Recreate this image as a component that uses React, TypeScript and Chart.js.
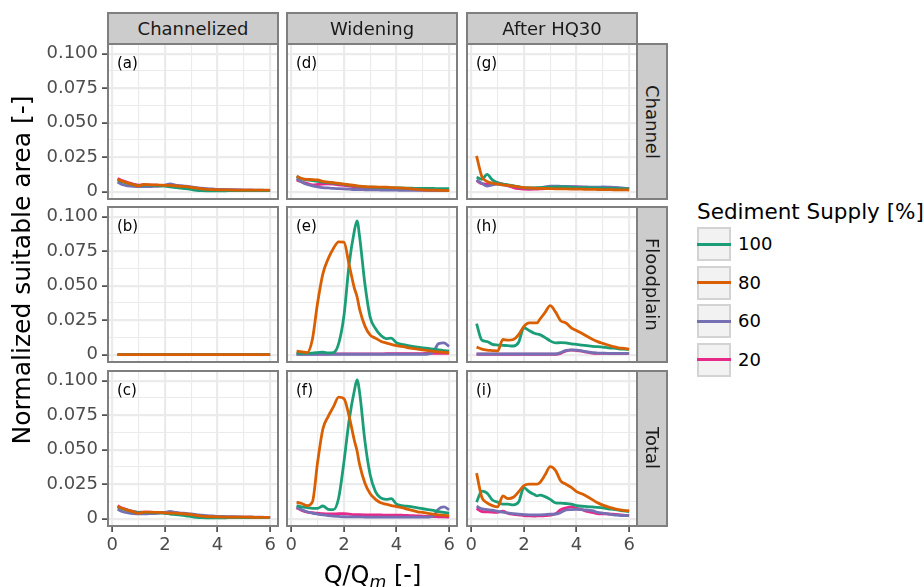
import React, { useEffect, useRef } from 'react';
import { Chart, registerables } from 'chart.js';
Chart.register(...registerables);

// ---------------- data ----------------
const X = [0.2, 0.4, 0.6, 0.8, 1.0, 1.2, 1.4, 1.6, 1.8, 2.0, 2.2, 2.4, 2.5, 2.6, 2.8, 3.0, 3.2, 3.4, 3.6, 3.8, 4.0, 4.2, 4.4, 4.6, 4.8, 5.0, 5.2, 5.4, 5.6, 5.8, 6.0];

const SUPPLY = ['100', '80', '60', '20'];
const COLUMNS = ['Channelized', 'Widening', 'After HQ30'];
const ROWS = ['Channel', 'Floodplain', 'Total'];
const LETTERS = [['(a)', '(b)', '(c)'], ['(d)', '(e)', '(f)'], ['(g)', '(h)', '(i)']];

const XTICK_VALUES = [0, 2, 4, 6];
const XTICK_LABELS = ['0', '2', '4', '6'];
const XMINOR_VALUES = [1, 3, 5];
const YTICK_VALUES = [0, 0.025, 0.05, 0.075, 0.1];
const YTICK_LABELS = ['0', '0.025', '0.050', '0.075', '0.100'];
const YMINOR_VALUES = [0.0125, 0.0375, 0.0625, 0.0875];

// (a) Channelized / Channel
const A100 = [0.0085, 0.007, 0.006, 0.005, 0.0045, 0.0048, 0.0047, 0.0045, 0.0043, 0.004, 0.0035, 0.003, 0.0028, 0.0026, 0.0022, 0.0016, 0.001, 0.0007, 0.0006, 0.0006, 0.0006, 0.0006, 0.0007, 0.0007, 0.0007, 0.0008, 0.0008, 0.0008, 0.0008, 0.0008, 0.0008];
const A80 = [0.0088, 0.0075, 0.0062, 0.0052, 0.0042, 0.0052, 0.005, 0.0049, 0.0048, 0.0046, 0.0045, 0.0042, 0.004, 0.0039, 0.0037, 0.0032, 0.0026, 0.002, 0.0016, 0.0015, 0.0014, 0.0013, 0.0013, 0.0012, 0.0012, 0.0012, 0.0011, 0.0011, 0.0011, 0.0011, 0.0011];
const A60 = [0.007, 0.005, 0.0042, 0.0038, 0.0036, 0.0036, 0.0037, 0.0038, 0.0041, 0.0048, 0.0057, 0.0048, 0.0045, 0.0043, 0.004, 0.0035, 0.003, 0.0025, 0.0022, 0.002, 0.0017, 0.0016, 0.0015, 0.0014, 0.0013, 0.0012, 0.0012, 0.0011, 0.0011, 0.001, 0.001];
const A20 = [0.0095, 0.0078, 0.0065, 0.0055, 0.0048, 0.005, 0.0049, 0.0047, 0.0046, 0.0044, 0.0042, 0.004, 0.0038, 0.0037, 0.0034, 0.003, 0.0025, 0.002, 0.0016, 0.0014, 0.0013, 0.0012, 0.0012, 0.0012, 0.0011, 0.0011, 0.0011, 0.001, 0.001, 0.001, 0.001];

// (b) Channelized / Floodplain
const B100 = [0, 0, 0, 0, 0, 0, 0, 0, 0, 0, 0, 0, 0, 0, 0, 0, 0, 0, 0, 0, 0, 0, 0, 0, 0, 0, 0, 0, 0, 0, 0];
const B80 = [0, 0, 0, 0, 0, 0, 0, 0, 0, 0, 0, 0, 0, 0, 0, 0, 0, 0, 0, 0, 0, 0, 0, 0, 0, 0, 0, 0, 0, 0, 0];
const B60 = [0, 0, 0, 0, 0, 0, 0, 0, 0, 0, 0, 0, 0, 0, 0, 0, 0, 0, 0, 0, 0, 0, 0, 0, 0, 0, 0, 0, 0, 0, 0];
const B20 = [0, 0, 0, 0, 0, 0, 0, 0, 0, 0, 0, 0, 0, 0, 0, 0, 0, 0, 0, 0, 0, 0, 0, 0, 0, 0, 0, 0, 0, 0, 0];

// (c) Channelized / Total
const C100 = [0.0085, 0.007, 0.006, 0.005, 0.0044, 0.0046, 0.0045, 0.0044, 0.0042, 0.0039, 0.0034, 0.003, 0.0028, 0.0026, 0.0021, 0.0015, 0.001, 0.0007, 0.0006, 0.0006, 0.0006, 0.0006, 0.0007, 0.0007, 0.0007, 0.0008, 0.0008, 0.0008, 0.0008, 0.0008, 0.0008];
const C80 = [0.0087, 0.0074, 0.006, 0.005, 0.0038, 0.0048, 0.0047, 0.0046, 0.0045, 0.0042, 0.0041, 0.004, 0.0038, 0.0037, 0.0034, 0.003, 0.0024, 0.0018, 0.0015, 0.0014, 0.0013, 0.0012, 0.0012, 0.0012, 0.0011, 0.0011, 0.0011, 0.001, 0.001, 0.001, 0.001];
const C60 = [0.0068, 0.005, 0.0042, 0.0037, 0.0035, 0.0035, 0.0036, 0.0037, 0.004, 0.0046, 0.0052, 0.0046, 0.0043, 0.0041, 0.0038, 0.0034, 0.003, 0.0025, 0.0022, 0.002, 0.0017, 0.0016, 0.0015, 0.0014, 0.0013, 0.0012, 0.0012, 0.0011, 0.0011, 0.001, 0.001];
const C20 = [0.0093, 0.0076, 0.0063, 0.0053, 0.0046, 0.0048, 0.0047, 0.0046, 0.0045, 0.0043, 0.0041, 0.0039, 0.0037, 0.0036, 0.0033, 0.0029, 0.0024, 0.0019, 0.0016, 0.0014, 0.0013, 0.0012, 0.0012, 0.0012, 0.0011, 0.0011, 0.0011, 0.001, 0.001, 0.001, 0.001];

// (d) Widening / Channel
const D100 = [0.011, 0.0093, 0.0085, 0.008, 0.0075, 0.007, 0.0066, 0.0062, 0.0058, 0.0053, 0.0048, 0.0043, 0.004, 0.0038, 0.0035, 0.0033, 0.0031, 0.003, 0.0029, 0.0028, 0.0027, 0.0027, 0.0026, 0.0025, 0.0024, 0.0024, 0.0023, 0.0023, 0.0022, 0.0022, 0.0022];
const D80 = [0.0112, 0.0095, 0.0089, 0.0088, 0.0085, 0.0075, 0.007, 0.0065, 0.006, 0.0055, 0.005, 0.0045, 0.0042, 0.004, 0.0037, 0.0035, 0.0034, 0.0033, 0.0032, 0.003, 0.0028, 0.0026, 0.0024, 0.002, 0.0016, 0.0013, 0.0012, 0.0011, 0.001, 0.0009, 0.0008];
const D60 = [0.0097, 0.007, 0.0052, 0.0042, 0.0035, 0.003, 0.0027, 0.0024, 0.0022, 0.002, 0.0018, 0.0016, 0.0016, 0.0015, 0.0014, 0.0013, 0.0013, 0.0012, 0.0012, 0.0011, 0.0011, 0.001, 0.001, 0.001, 0.0009, 0.0009, 0.0009, 0.0008, 0.0008, 0.0008, 0.0008];
const D20 = [0.0085, 0.007, 0.006, 0.005, 0.0052, 0.0055, 0.0056, 0.0055, 0.005, 0.0045, 0.004, 0.0035, 0.0033, 0.003, 0.0028, 0.0026, 0.0025, 0.0023, 0.0022, 0.0021, 0.002, 0.0019, 0.0018, 0.0016, 0.0014, 0.0012, 0.0011, 0.001, 0.0009, 0.0008, 0.0008];

// (e) Widening / Floodplain
const E100 = [0.001, 0.001, 0.001, 0.0012, 0.0015, 0.0018, 0.0013, 0.0015, 0.008, 0.028, 0.0658, 0.09, 0.097, 0.085, 0.051, 0.027, 0.019, 0.014, 0.0117, 0.012, 0.0086, 0.0074, 0.0068, 0.006, 0.0055, 0.005, 0.0045, 0.004, 0.0035, 0.003, 0.0025];
const E80 = [0.0025, 0.002, 0.0015, 0.011, 0.0376, 0.0586, 0.0694, 0.077, 0.0818, 0.0815, 0.065, 0.048, 0.042, 0.0327, 0.0207, 0.0142, 0.012, 0.0098, 0.0085, 0.0075, 0.0065, 0.006, 0.0052, 0.0046, 0.004, 0.0035, 0.003, 0.0024, 0.002, 0.0017, 0.0014];
const E60 = [0.0003, 0.0003, 0.0003, 0.0003, 0.0003, 0.0003, 0.0003, 0.0003, 0.0003, 0.0003, 0.0003, 0.0003, 0.0003, 0.0003, 0.0003, 0.0003, 0.0003, 0.0003, 0.0003, 0.0003, 0.0003, 0.0003, 0.0003, 0.0003, 0.0003, 0.0003, 0.0005, 0.002, 0.008, 0.0085, 0.006];
const E20 = [0.0004, 0.0004, 0.0004, 0.0005, 0.0005, 0.0005, 0.0005, 0.0006, 0.0006, 0.0006, 0.0006, 0.0006, 0.0006, 0.0006, 0.0006, 0.0006, 0.0006, 0.0006, 0.0007, 0.0007, 0.0007, 0.0007, 0.0007, 0.0008, 0.0008, 0.0008, 0.0009, 0.0009, 0.001, 0.001, 0.001];

// (f) Widening / Total
const F100 = [0.0095, 0.0085, 0.008, 0.0075, 0.0075, 0.0092, 0.0068, 0.0065, 0.015, 0.041, 0.0715, 0.093, 0.1005, 0.091, 0.056, 0.0316, 0.0196, 0.015, 0.014, 0.0145, 0.0106, 0.0095, 0.009, 0.0085, 0.0078, 0.0072, 0.0066, 0.006, 0.0052, 0.0045, 0.004];
const F80 = [0.012, 0.011, 0.0095, 0.012, 0.041, 0.065, 0.074, 0.081, 0.088, 0.087, 0.074, 0.0565, 0.049, 0.039, 0.0256, 0.018, 0.014, 0.0115, 0.0105, 0.0095, 0.0088, 0.008, 0.007, 0.006, 0.005, 0.0045, 0.0038, 0.0033, 0.0028, 0.0024, 0.0022];
const F60 = [0.0085, 0.0065, 0.005, 0.004, 0.0033, 0.0027, 0.0022, 0.0018, 0.0016, 0.0014, 0.0013, 0.0013, 0.0013, 0.0013, 0.0012, 0.0012, 0.0012, 0.0012, 0.0012, 0.0011, 0.0011, 0.0011, 0.0011, 0.0011, 0.0011, 0.0011, 0.0012, 0.002, 0.007, 0.0085, 0.0065];
const F20 = [0.008, 0.006, 0.0048, 0.0043, 0.004, 0.0037, 0.0035, 0.0034, 0.0036, 0.0036, 0.0033, 0.003, 0.003, 0.0029, 0.0028, 0.0028, 0.0027, 0.0027, 0.0026, 0.0026, 0.0026, 0.0025, 0.0024, 0.0022, 0.002, 0.0018, 0.0017, 0.0016, 0.0014, 0.0013, 0.0012];

// (g) After HQ30 / Channel
const G100 = [0.0105, 0.009, 0.0125, 0.0085, 0.0065, 0.0055, 0.005, 0.0042, 0.0035, 0.003, 0.0028, 0.0028, 0.0029, 0.003, 0.0031, 0.0032, 0.0034, 0.0035, 0.0035, 0.0033, 0.003, 0.003, 0.0029, 0.0028, 0.0027, 0.0025, 0.0024, 0.0023, 0.0022, 0.0021, 0.002];
const G80 = [0.026, 0.011, 0.0075, 0.0062, 0.0055, 0.005, 0.0045, 0.004, 0.0035, 0.003, 0.0027, 0.0025, 0.0024, 0.0024, 0.0023, 0.0022, 0.0021, 0.0021, 0.002, 0.0019, 0.0018, 0.0018, 0.0017, 0.0017, 0.0016, 0.0015, 0.0015, 0.0014, 0.0013, 0.0013, 0.0012];
const G60 = [0.0085, 0.006, 0.004, 0.005, 0.0055, 0.005, 0.0045, 0.004, 0.0034, 0.0028, 0.0026, 0.0025, 0.0026, 0.0028, 0.0035, 0.004, 0.004, 0.0039, 0.0038, 0.0037, 0.0036, 0.0035, 0.0034, 0.0033, 0.0033, 0.0034, 0.0033, 0.0031, 0.003, 0.0025, 0.002];
const G20 = [0.008, 0.0058, 0.0055, 0.0055, 0.0063, 0.0055, 0.0042, 0.003, 0.0022, 0.0018, 0.0017, 0.0018, 0.0019, 0.002, 0.0023, 0.0027, 0.003, 0.0032, 0.0034, 0.0035, 0.0034, 0.0032, 0.003, 0.0029, 0.0028, 0.0028, 0.0027, 0.0026, 0.0025, 0.0023, 0.0022];

// (h) After HQ30 / Floodplain
const H100 = [0.0225, 0.0105, 0.0095, 0.0075, 0.007, 0.0068, 0.0065, 0.0063, 0.009, 0.0195, 0.0175, 0.0155, 0.015, 0.0145, 0.0125, 0.01, 0.0085, 0.0088, 0.0085, 0.0078, 0.0075, 0.007, 0.0065, 0.006, 0.0058, 0.0055, 0.005, 0.0047, 0.0043, 0.004, 0.0038];
const H80 = [0.0055, 0.004, 0.0033, 0.003, 0.0027, 0.011, 0.0105, 0.011, 0.0145, 0.0205, 0.023, 0.023, 0.023, 0.0255, 0.0305, 0.0355, 0.031, 0.0245, 0.023, 0.0195, 0.0175, 0.0155, 0.0133, 0.0112, 0.0095, 0.0082, 0.007, 0.0058, 0.005, 0.0045, 0.004];
const H60 = [0.0005, 0.0005, 0.0005, 0.0005, 0.0005, 0.0005, 0.0005, 0.0005, 0.0005, 0.0005, 0.0005, 0.0005, 0.0005, 0.0005, 0.0005, 0.0005, 0.0005, 0.0015, 0.0032, 0.0035, 0.0033, 0.0028, 0.002, 0.0015, 0.0012, 0.0011, 0.001, 0.001, 0.001, 0.001, 0.001];
const H20 = [0.0003, 0.0003, 0.0003, 0.0003, 0.0003, 0.0003, 0.0003, 0.0003, 0.0003, 0.0003, 0.0003, 0.0003, 0.0003, 0.0003, 0.0003, 0.0003, 0.0003, 0.001, 0.0028, 0.0033, 0.003, 0.0025, 0.0018, 0.0012, 0.001, 0.0009, 0.0009, 0.0008, 0.0008, 0.0008, 0.0008];

// (i) After HQ30 / Total
const I100 = [0.012, 0.02, 0.0185, 0.0135, 0.012, 0.0105, 0.0105, 0.01, 0.012, 0.0225, 0.0195, 0.0175, 0.0165, 0.017, 0.016, 0.014, 0.0115, 0.0113, 0.011, 0.0105, 0.0095, 0.009, 0.0088, 0.0085, 0.0082, 0.0078, 0.0072, 0.0067, 0.0062, 0.0056, 0.0051];
const I80 = [0.033, 0.0155, 0.0115, 0.0095, 0.0085, 0.0165, 0.0145, 0.0155, 0.0195, 0.024, 0.025, 0.025, 0.025, 0.026, 0.0316, 0.0377, 0.035, 0.0273, 0.025, 0.0227, 0.0196, 0.018, 0.016, 0.0138, 0.0115, 0.0098, 0.0085, 0.0075, 0.0065, 0.006, 0.0057];
const I60 = [0.009, 0.0072, 0.0066, 0.0062, 0.0053, 0.0047, 0.0042, 0.0036, 0.0032, 0.003, 0.0028, 0.0027, 0.0027, 0.0028, 0.003, 0.0032, 0.0033, 0.0045, 0.0063, 0.0066, 0.0067, 0.0065, 0.0063, 0.0058, 0.0045, 0.004, 0.0035, 0.0028, 0.0025, 0.0023, 0.0022];
const I20 = [0.0075, 0.0052, 0.005, 0.0048, 0.0045, 0.0055, 0.0038, 0.0032, 0.0028, 0.0022, 0.002, 0.0019, 0.002, 0.002, 0.0022, 0.0025, 0.0035, 0.0065, 0.0078, 0.0085, 0.0075, 0.0065, 0.0052, 0.0045, 0.0037, 0.0035, 0.0034, 0.0032, 0.003, 0.0025, 0.0022];

// panel -> [100, 80, 60, 20], indexed [column][row]
const PANEL_SERIES = [
  [[A100, A80, A60, A20], [B100, B80, B60, B20], [C100, C80, C60, C20]],
  [[D100, D80, D60, D20], [E100, E80, E60, E20], [F100, F80, F60, F20]],
  [[G100, G80, G60, G20], [H100, H80, H60, H20], [I100, I80, I60, I20]],
];

// ---------------- style / layout ----------------
const COLORS = ['#1B9E77', '#D95F02', '#7570B3', '#E7298A'];
const DRAW_ORDER = [1, 0, 2, 3];
const FONT = "'DejaVu Sans', 'Liberation Sans', sans-serif";
const COL_LEFT = [108, 287, 467];
const ROW_TOP = [44, 207, 371];
const PANEL_W = 170;
const PANEL_H = 155;
const XMIN = -0.164;
const XMAX = 6.3;
const YMIN = -0.0053;
const YMAX = 0.107;
const BORDER_GRAY = '#7F7F7F';

const near = (a: number, b: number) => Math.abs(a - b) < 1e-9;
const isIn = (v: number, arr: number[]) => arr.some((a) => near(a, v));

const panelBorder = {
  id: 'panelBorder',
  afterDraw(chart: any) {
    const { ctx, chartArea: a } = chart;
    ctx.save();
    ctx.strokeStyle = BORDER_GRAY;
    ctx.lineWidth = 2;
    ctx.strokeRect(a.left, a.top, a.right - a.left, a.bottom - a.top);
    ctx.restore();
  },
};

function Panel({ col, row }: { col: number; row: number }) {
  const ref = useRef<HTMLCanvasElement>(null);
  const showY = col === 0;
  const showX = row === 2;
  const padL = showY ? COL_LEFT[0] : 8;
  const padT = 6;
  const padR = 8;
  const padB = showX ? 48 : 6;
  const w = padL + PANEL_W + padR;
  const h = padT + PANEL_H + padB;

  useEffect(() => {
    const series = PANEL_SERIES[col][row];
    const chart = new Chart(ref.current as HTMLCanvasElement, {
      type: 'line',
      data: {
        datasets: series.map((ys: number[], i: number) => ({
          label: SUPPLY[i],
          data: X.map((x, j) => ({ x, y: ys[j] })),
          borderColor: COLORS[i],
          backgroundColor: COLORS[i],
          borderWidth: 2.8,
          pointRadius: 0,
          fill: false,
          order: DRAW_ORDER[i],
          cubicInterpolationMode: 'monotone',
          borderJoinStyle: 'round',
        })),
      },
      options: {
        responsive: false,
        animation: false,
        events: [],
        layout: { padding: { left: showY ? 0 : padL, right: padR, top: padT, bottom: showX ? 0 : padB } },
        plugins: { legend: { display: false }, tooltip: { enabled: false } },
        scales: {
          x: {
            type: 'linear',
            position: 'bottom',
            min: XMIN,
            max: XMAX,
            afterBuildTicks: (s: any) => {
              s.ticks = [...XTICK_VALUES, ...XMINOR_VALUES].sort((a, b) => a - b).map((v) => ({ value: v }));
            },
            afterFit: (s: any) => {
              s.height = showX ? padB : 0;
              s.paddingLeft = 0; s.paddingRight = 0; s.paddingTop = 0; s.paddingBottom = 0;
            },
            ticks: {
              display: showX,
              autoSkip: false,
              maxRotation: 0,
              minRotation: 0,
              padding: 3,
              color: '#4D4D4D',
              font: { family: FONT, size: 18 },
              callback: (v: any) => {
                const k = XTICK_VALUES.findIndex((t) => near(t, v));
                return k >= 0 ? XTICK_LABELS[k] : '';
              },
            },
            grid: {
              color: '#EBEBEB',
              lineWidth: (c: any) => (c.tick && isIn(c.tick.value, XTICK_VALUES) ? 2.2 : 1.1),
              drawTicks: showX,
              tickLength: 6,
              tickWidth: 1.5,
              tickColor: (c: any) => (c.tick && isIn(c.tick.value, XTICK_VALUES) ? '#333333' : 'rgba(0,0,0,0)'),
            },
            border: { display: false },
          },
          y: {
            type: 'linear',
            position: 'left',
            min: YMIN,
            max: YMAX,
            afterBuildTicks: (s: any) => {
              s.ticks = [...YTICK_VALUES, ...YMINOR_VALUES].sort((a, b) => a - b).map((v) => ({ value: v }));
            },
            afterFit: (s: any) => {
              s.width = showY ? COL_LEFT[0] : 0;
              s.paddingLeft = 0; s.paddingRight = 0; s.paddingTop = 0; s.paddingBottom = 0;
            },
            ticks: {
              display: showY,
              autoSkip: false,
              padding: 4,
              color: '#4D4D4D',
              font: { family: FONT, size: 18 },
              callback: (v: any) => {
                const k = YTICK_VALUES.findIndex((t) => near(t, v));
                return k >= 0 ? YTICK_LABELS[k] : '';
              },
            },
            grid: {
              color: '#EBEBEB',
              lineWidth: (c: any) => (c.tick && isIn(c.tick.value, YTICK_VALUES) ? 2.2 : 1.1),
              drawTicks: showY,
              tickLength: 6,
              tickWidth: 1.5,
              tickColor: (c: any) => (c.tick && isIn(c.tick.value, YTICK_VALUES) ? '#333333' : 'rgba(0,0,0,0)'),
            },
            border: { display: false },
          },
        },
      } as any,
      plugins: [panelBorder],
    } as any);
    return () => chart.destroy();
  }, []);

  return (
    <canvas
      ref={ref}
      width={w}
      height={h}
      style={{ position: 'absolute', left: COL_LEFT[col] - padL, top: ROW_TOP[row] - padT, width: w, height: h }}
    />
  );
}

export default function App() {
  const panels: any[] = [];
  for (let c = 0; c < 3; c++) for (let r = 0; r < 3; r++) panels.push(<Panel key={`p${c}${r}`} col={c} row={r} />);

  return (
    <div style={{ position: 'absolute', left: 0, top: 0, width: 924, height: 587, background: '#FFFFFF', overflow: 'hidden', fontFamily: FONT, color: '#000' }}>
      {panels}

      {/* panel letters */}
      {LETTERS.map((colL, c) =>
        colL.map((txt, r) => (
          <div key={`l${c}${r}`} style={{ position: 'absolute', left: COL_LEFT[c] + 9, top: ROW_TOP[r] + 10, fontSize: 15, lineHeight: '18px', color: '#000' }}>
            {txt}
          </div>
        ))
      )}

      {/* top strips */}
      {COLUMNS.map((t, c) => (
        <div key={`s${c}`} style={{ position: 'absolute', left: COL_LEFT[c] - 1, top: 12, width: PANEL_W + 2, height: 33, boxSizing: 'border-box', background: '#CCCCCC', border: `2px solid ${BORDER_GRAY}`, display: 'flex', alignItems: 'center', justifyContent: 'center', fontSize: 18, color: '#1A1A1A' }}>
          {t}
        </div>
      ))}

      {/* right strips */}
      {ROWS.map((t, r) => (
        <div key={`r${r}`} style={{ position: 'absolute', left: 636, top: ROW_TOP[r] - 1, width: 32, height: PANEL_H + 2, boxSizing: 'border-box', background: '#CCCCCC', border: `2px solid ${BORDER_GRAY}`, display: 'flex', alignItems: 'center', justifyContent: 'center', fontSize: 18, color: '#1A1A1A' }}>
          <span style={{ writingMode: 'vertical-rl' as any }}>{t}</span>
        </div>
      ))}

      {/* y axis title */}
      <div style={{ position: 'absolute', left: 22 - 220, top: 270 - 16, width: 440, height: 32, lineHeight: '32px', textAlign: 'center', transform: 'rotate(-90deg)', fontSize: 25, whiteSpace: 'nowrap' }}>
        Normalized suitable area [-]
      </div>

      {/* x axis title */}
      <div style={{ position: 'absolute', left: COL_LEFT[0], top: 560, width: COL_LEFT[2] + PANEL_W - COL_LEFT[0], height: 30, lineHeight: '30px', textAlign: 'center', fontSize: 24, whiteSpace: 'nowrap' }}>
        Q/Q<span style={{ fontSize: '0.72em', fontStyle: 'italic', position: 'relative', top: '0.3em' }}>m</span> [-]
      </div>

      {/* legend */}
      <div style={{ position: 'absolute', left: 697, top: 199, fontSize: 21.5, lineHeight: '26px', whiteSpace: 'nowrap' }}>Sediment Supply [%]</div>
      {SUPPLY.map((s, i) => (
        <React.Fragment key={`k${i}`}>
          <div style={{ position: 'absolute', left: 697, top: 227 + i * 38.6, width: 34, height: 34, boxSizing: 'border-box', background: '#F2F2F2', border: '2px solid #D3D3D3' }}>
            <div style={{ position: 'absolute', left: -2, right: -2, top: 13.5, height: 3, background: COLORS[i] }} />
          </div>
          <div style={{ position: 'absolute', left: 738, top: 227 + i * 38.6, height: 34, lineHeight: '34px', fontSize: 18 }}>{s}</div>
        </React.Fragment>
      ))}
    </div>
  );
}
